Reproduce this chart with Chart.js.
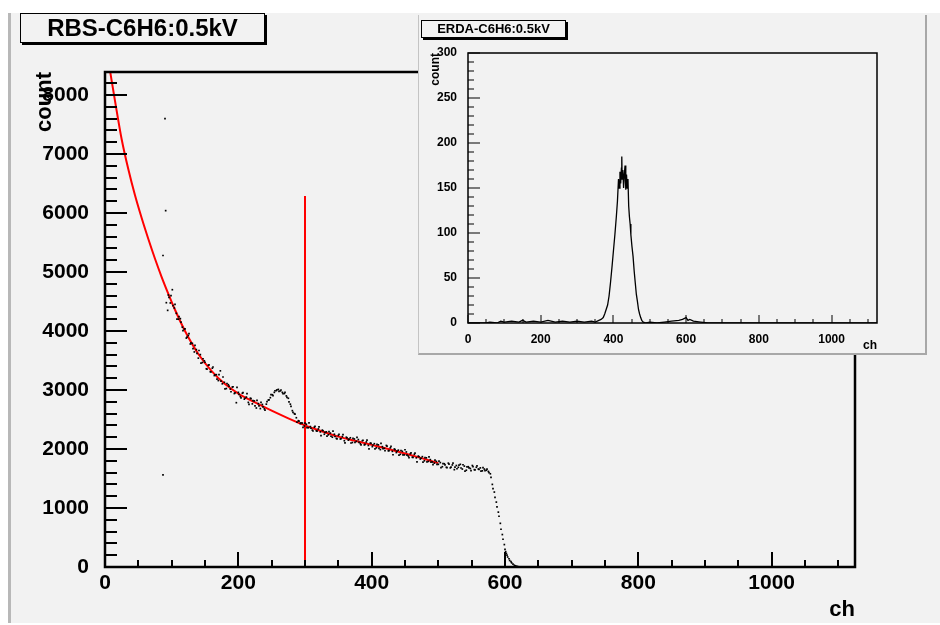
<!DOCTYPE html>
<html>
<head>
<meta charset="utf-8">
<script src="https://cdn.jsdelivr.net/npm/chart.js@4"></script>
<style>
  body { margin: 0; width: 940px; height: 625px; background: #fff; position: relative; overflow: hidden;
         font-family: "Liberation Sans", Arial, Helvetica, sans-serif; }
  #pad { position: absolute; left: 8px; top: 13px; width: 932px; height: 610px; background: #f2f2f2;
         border-left: 3px solid #b8b8b8; box-sizing: border-box; }
  #main { position: absolute; left: 0; top: 0; }
  #insetPad { position: absolute; left: 418px; top: 15px; width: 509px; height: 340px; background: #f2f2f2;
              box-sizing: border-box; border-left: 1px solid #c4c4c4; border-right: 2px solid #a8a8a8;
              border-bottom: 2px solid #a8a8a8; }
  #inset { position: absolute; left: 418px; top: 15px; }
  .title { position: absolute; border: 1px solid #000; box-shadow: 2px 2px 0 #000; background: #f2f2f2;
           font-weight: bold; text-align: center; box-sizing: border-box; color: #000; white-space: nowrap; }
  #mainTitle { left: 20px; top: 13px; width: 245px; height: 30px; font-size: 24px; line-height: 28px; }
  #insetTitle { left: 421px; top: 20px; width: 145px; height: 18px; font-size: 13px; line-height: 16px; }
</style>
</head>
<body>
<div id="pad"></div>
<canvas id="main" width="940" height="625"></canvas>
<div id="mainTitle" class="title">RBS-C6H6:0.5kV</div>
<div id="insetPad"></div>
<canvas id="inset" width="509" height="340"></canvas>
<div id="insetTitle" class="title">ERDA-C6H6:0.5kV</div>

<script>
// RBS spectrum (dots)
const rbsCh = [
  87, 87, 90, 91, 92, 94, 95, 98, 101, 104,
  107, 110, 113, 116, 119, 122, 125, 128, 131, 134,
  137, 140, 143, 146, 149, 152, 155, 158, 161, 164,
  167, 170, 173, 176, 179, 182, 185, 188, 191, 194,
  197, 200, 203, 206, 209, 212, 215, 218, 221, 224,
  227, 230, 233, 236, 239, 242, 245, 248, 251, 254,
  257, 260, 263, 266, 269, 272, 275, 278, 281, 284,
  287, 290, 293, 296, 299, 302, 305, 308, 311, 314,
  317, 320, 323, 326, 329, 332, 335, 338, 341, 344,
  347, 350, 353, 356, 359, 362, 365, 368, 371, 374,
  377, 380, 383, 386, 389, 392, 395, 398, 401, 404,
  407, 410, 413, 416, 419, 422, 425, 428, 431, 434,
  437, 440, 443, 446, 449, 452, 455, 458, 461, 464,
  467, 470, 473, 476, 479, 482, 485, 488, 491, 494,
  497, 500, 503, 506, 509, 512, 515, 518, 521, 524,
  527, 530, 533, 536, 539, 542, 545, 548, 551, 554,
  557, 560, 563, 566, 569, 572, 575, 578, 581, 584,
  587, 590, 593, 596, 599, 601, 603, 606, 609, 612,
  616, 620,
  96, 99, 102, 105, 108, 111, 114, 117, 120, 123,
  126, 129, 132, 135, 138, 141, 144, 147, 150, 153,
  156, 159, 162, 165, 168, 171, 174, 177, 180, 183,
  186, 189, 192, 195, 198, 201, 204, 207, 210, 213,
  216, 219, 222, 225, 228, 231, 234, 237, 240, 243,
  246, 249, 252, 255, 258, 261, 264, 267, 270, 273,
  276, 279, 282, 285, 288, 291, 294, 297, 300, 303,
  306, 309, 312, 315, 318, 321, 324, 327, 330, 333,
  336, 339, 342, 345, 348, 351, 354, 357, 360, 363,
  366, 369, 372, 375, 378, 381, 384, 387, 390, 393,
  396, 399, 402, 405, 408, 411, 414, 417, 420, 423,
  426, 429, 432, 435, 438, 441, 444, 447, 450, 453,
  456, 459, 462, 465, 468, 471, 474, 477, 480, 483,
  486, 489, 492, 495, 498, 501, 504, 507, 510, 513,
  516, 519, 522, 525, 528, 531, 534, 537, 540, 543,
  546, 549, 552, 555, 558, 561, 564, 567, 570, 573,
  576, 579, 582, 585, 588, 591, 594, 597, 600, 602,
  604, 607, 610, 614, 618
];
const rbsCount = [
  1560, 5280, 7600, 6040, 4480, 4350, 4610, 4475, 4700, 4390,
  4300, 4200, 4210, 4065, 4035, 3880, 3925, 3780, 3790, 3645,
  3685, 3540, 3600, 3465, 3495, 3360, 3420, 3310, 3370, 3245,
  3260, 3160, 3325, 3105, 3130, 3025, 3090, 3015, 3050, 2940,
  2785, 2960, 2890, 2945, 2845, 2880, 2790, 2860, 2765, 2815,
  2695, 2770, 2685, 2755, 2680, 2760, 2830, 2870, 2920, 2960,
  2990, 3010, 2985, 2960, 2940, 2900, 2860, 2760, 2650, 2600,
  2530, 2480, 2430, 2440, 2390, 2420, 2360, 2380, 2320, 2370,
  2310, 2340, 2290, 2320, 2250, 2290, 2240, 2270, 2200, 2250,
  2180, 2230, 2170, 2210, 2140, 2200, 2150, 2190, 2110, 2170,
  2130, 2160, 2090, 2140, 2070, 2120, 2060, 2100, 2040, 2090,
  2020, 2070, 1990, 2040, 2010, 2060, 1970, 2020, 1960, 2000,
  1940, 1980, 1910, 1960, 1900, 1950, 1880, 1920, 1860, 1910,
  1850, 1880, 1830, 1870, 1800, 1850, 1790, 1820, 1780, 1760,
  1790, 1740, 1770, 1700, 1750, 1690, 1760, 1680, 1730, 1650,
  1720, 1690, 1740, 1660, 1710, 1640, 1700, 1670, 1720, 1650,
  1690, 1660, 1680, 1630, 1660, 1640, 1620, 1580, 1400, 1270,
  1100, 930, 740, 550, 380, 260, 200, 140, 90, 50,
  20, 5,
  4570, 4600, 4430, 4450, 4200, 4245, 4150, 4005, 4035, 3895,
  3955, 3800, 3700, 3755, 3620, 3670, 3455, 3530, 3470, 3355,
  3425, 3305, 3390, 3255, 3185, 3260, 3150, 3220, 3020, 3110,
  3065, 2970, 3055, 2950, 3045, 2925, 2865, 2955, 2860, 2940,
  2755, 2855, 2820, 2730, 2825, 2730, 2790, 2715, 2660, 2804,
  2832, 2922, 2904, 2987, 3004, 2976, 3000, 2938, 2961, 2876,
  2800, 2724, 2622, 2592, 2454, 2474, 2443, 2367, 2440, 2361,
  2442, 2352, 2305, 2383, 2304, 2374, 2228, 2309, 2283, 2217,
  2295, 2216, 2302, 2212, 2170, 2248, 2174, 2244, 2103, 2189,
  2168, 2102, 2180, 2111, 2197, 2112, 2070, 2148, 2079, 2149,
  2003, 2094, 2068, 2002, 2080, 2011, 2097, 2007, 1970, 2048,
  1974, 2044, 1903, 1989, 1963, 1897, 1975, 1901, 1987, 1897,
  1855, 1933, 1859, 1929, 1783, 1869, 1843, 1777, 1855, 1781,
  1867, 1777, 1735, 1813, 1739, 1793, 1686, 1753, 1731, 1684,
  1745, 1692, 1759, 1694, 1665, 1726, 1678, 1733, 1626, 1698,
  1681, 1634, 1700, 1647, 1714, 1654, 1625, 1686, 1633, 1660,
  1600, 1520, 1330, 1180, 1020, 860, 640, 470, 300, 230,
  170, 110, 70, 30, 10
];

// fitted curve (red)
const fitCh = [8, 15, 25, 35, 45, 55, 65, 75, 85, 95, 105, 120, 140, 160, 180, 200, 225, 250, 275, 300, 325, 350, 375, 400, 425, 450, 475, 500];
const fitCount = [8380, 7900, 7250, 6740, 6300, 5915, 5560, 5225, 4915, 4630, 4360, 4000, 3610, 3320, 3100, 2940, 2790, 2650, 2520, 2400, 2300, 2210, 2140, 2070, 2000, 1925, 1845, 1760];

// cut marker
const cutCh = 300;
const cutTop = 6290;

// ERDA spectrum (inset)
const erdaCh = [
  0, 50, 60, 80, 90, 100, 120, 140, 150, 160,
  180, 200, 220, 240, 260, 280, 300, 320, 340, 350,
  360, 366, 372, 376, 380, 384, 388, 392, 396, 400,
  404, 408, 411, 414, 416, 418, 420, 422, 423, 424,
  426, 428, 430, 432, 434, 436, 438, 440, 442, 444,
  446, 448, 451, 454, 457, 460, 463, 466, 469, 472,
  475, 478, 482, 490, 500, 520, 540, 560, 580, 590,
  600, 605, 610, 620, 640, 660, 700, 1125
];
const erdaCount = [
  0, 0, 1, 0, 2, 1, 2, 1, 3, 1,
  2, 1, 3, 1, 2, 1, 2, 1, 2, 1,
  3, 4, 6, 10, 15, 20, 30, 45, 62, 80,
  98, 118, 135, 160, 150, 168, 155, 172, 185, 160,
  170, 150, 165, 175, 148, 165, 150, 160, 130, 118,
  110, 98, 85, 74, 58, 45, 32, 24, 15, 10,
  6, 3, 1, 0, 1, 0, 1, 2, 3, 4,
  6, 3, 4, 2, 1, 0, 0, 0
];

// tick labels
const chTicks = [0, 200, 400, 600, 800, 1000];
const rbsTicks = [0, 1000, 2000, 3000, 4000, 5000, 6000, 7000, 8000];
const erdaTicks = [0, 50, 100, 150, 200, 250, 300];

Chart.defaults.font.family = '"Liberation Sans", Arial, Helvetica, sans-serif';
Chart.defaults.color = '#000';

// ROOT-like frame with ticks pointing inward
const rootAxes = {
  id: 'rootAxes',
  afterDatasetsDraw(chart, args, o) {
    const {ctx, chartArea: a, scales: {x, y}} = chart;
    ctx.save();
    ctx.strokeStyle = '#000';
    ctx.lineWidth = o.tickWidth;
    ctx.beginPath();
    for (let v = 0; v <= x.max; v += o.xMinor) {
      const px = Math.round(x.getPixelForValue(v));
      const len = v % o.xMajor === 0 ? o.xLong : o.xShort;
      ctx.moveTo(px, a.bottom);
      ctx.lineTo(px, a.bottom - len);
    }
    for (let v = 0; v <= y.max; v += o.yMinor) {
      const py = Math.round(y.getPixelForValue(v));
      const len = v % o.yMajor === 0 ? o.yLong : o.yShort;
      ctx.moveTo(a.left, py);
      ctx.lineTo(a.left + len, py);
    }
    ctx.stroke();
    ctx.lineWidth = o.frameWidth;
    ctx.strokeRect(a.left, a.top, a.right - a.left, a.bottom - a.top);
    ctx.restore();
  }
};

const pts = (xs, ys) => xs.map((c, i) => ({x: c, y: ys[i]}));
const plain = v => String(v);

new Chart(document.getElementById('main'), {
  type: 'scatter',
  data: {
    datasets: [
      { data: pts(rbsCh, rbsCount), pointStyle: 'rect', pointRadius: 1.2, backgroundColor: '#000', borderWidth: 0 },
      { type: 'line', data: pts(fitCh, fitCount), borderColor: '#ff0000', borderWidth: 2, pointRadius: 0,
        cubicInterpolationMode: 'monotone', fill: false },
      { type: 'line', data: [{x: cutCh, y: 0}, {x: cutCh, y: cutTop}], borderColor: '#ff0000', borderWidth: 2,
        pointRadius: 0, fill: false }
    ]
  },
  options: {
    responsive: false, animation: false, devicePixelRatio: 1,
    layout: { padding: { top: 72, right: 85, left: 0, bottom: 0 } },
    plugins: {
      legend: { display: false }, tooltip: { enabled: false },
      rootAxes: { tickWidth: 2, frameWidth: 2.5, xMinor: 50, xMajor: 200, xLong: 15, xShort: 7,
                  yMinor: 200, yMajor: 1000, yLong: 22, yShort: 12 }
    },
    scales: {
      x: {
        type: 'linear', min: 0, max: 1125,
        grid: { display: false }, border: { display: false },
        afterBuildTicks: axis => { axis.ticks = chTicks.map(v => ({value: v})); },
        afterFit: axis => { axis.height = 58; },
        ticks: { font: { size: 21, weight: 'bold' }, padding: -4, maxRotation: 0, autoSkip: false, callback: plain },
        title: { display: true, text: 'ch', align: 'end', font: { size: 22, weight: 'bold' }, padding: { top: 0, bottom: 2 } }
      },
      y: {
        type: 'linear', min: 0, max: 8390,
        grid: { display: false }, border: { display: false },
        afterBuildTicks: axis => { axis.ticks = rbsTicks.map(v => ({value: v})); },
        afterFit: axis => { axis.width = 105; },
        ticks: { font: { size: 21, weight: 'bold' }, padding: 8, autoSkip: false, callback: plain },
        title: { display: true, text: 'count', align: 'end', font: { size: 22, weight: 'bold' }, padding: { top: 32, bottom: 0 } }
      }
    }
  },
  plugins: [rootAxes]
});

new Chart(document.getElementById('inset'), {
  type: 'line',
  data: {
    datasets: [
      { data: pts(erdaCh, erdaCount), borderColor: '#000', borderWidth: 1.3, pointRadius: 0, fill: false, tension: 0 }
    ]
  },
  options: {
    responsive: false, animation: false, devicePixelRatio: 1,
    layout: { padding: { top: 38, right: 50, left: 0, bottom: 0 } },
    plugins: {
      legend: { display: false }, tooltip: { enabled: false },
      rootAxes: { tickWidth: 1, frameWidth: 1.5, xMinor: 50, xMajor: 200, xLong: 8, xShort: 4,
                  yMinor: 10, yMajor: 50, yLong: 12, yShort: 6 }
    },
    scales: {
      x: {
        type: 'linear', min: 0, max: 1125,
        grid: { display: false }, border: { display: false },
        afterBuildTicks: axis => { axis.ticks = chTicks.map(v => ({value: v})); },
        afterFit: axis => { axis.height = 32; },
        ticks: { font: { size: 12, weight: 'bold' }, padding: 1, maxRotation: 0, autoSkip: false, callback: plain },
        title: { display: true, text: 'ch', align: 'end', font: { size: 12, weight: 'bold' }, padding: { top: 0, bottom: 2 } }
      },
      y: {
        type: 'linear', min: 0, max: 300,
        grid: { display: false }, border: { display: false },
        afterBuildTicks: axis => { axis.ticks = erdaTicks.map(v => ({value: v})); },
        afterFit: axis => { axis.width = 50; },
        ticks: { font: { size: 12, weight: 'bold' }, padding: 3, autoSkip: false, callback: plain },
        title: { display: true, text: 'count', align: 'end', font: { size: 12, weight: 'bold' }, padding: { top: 10, bottom: 0 } }
      }
    }
  },
  plugins: [rootAxes]
});
</script>
</body>
</html>
